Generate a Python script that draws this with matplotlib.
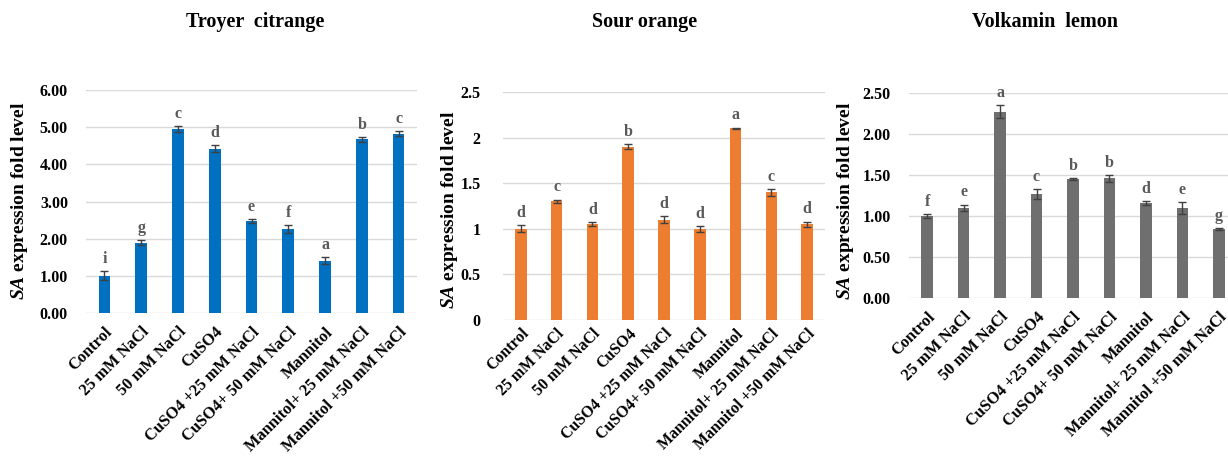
import numpy as np
import matplotlib
matplotlib.use("Agg")
import matplotlib.pyplot as plt

plt.rcParams['font.family'] = ['Liberation Serif', 'DejaVu Serif']
plt.rcParams['font.weight'] = 'bold'
plt.rcParams['mathtext.fontset'] = 'custom'
plt.rcParams['mathtext.bfit'] = 'Liberation Serif:bold:italic'
plt.rcParams['mathtext.it'] = 'Liberation Serif:italic'
plt.rcParams['mathtext.rm'] = 'Liberation Serif'

# treatments on the x axis
treatments = ['Control', '25 mM NaCl', '50 mM NaCl', 'CuSO4', 'CuSO4 +25 mM NaCl',
              'CuSO4+ 50 mM NaCl', 'Mannitol', 'Mannitol+ 25 mM NaCl', 'Mannitol +50 mM NaCl']

# Troyer citrange
troyer_vals = [1.00, 1.89, 4.95, 4.42, 2.47, 2.26, 1.41, 4.67, 4.82]
troyer_err = [0.12, 0.07, 0.07, 0.10, 0.06, 0.10, 0.10, 0.07, 0.07]
troyer_letters = ['i', 'g', 'c', 'd', 'e', 'f', 'a', 'b', 'c']

# Sour orange
sour_vals = [1.00, 1.30, 1.05, 1.90, 1.10, 1.00, 2.10, 1.40, 1.05]
sour_err = [0.04, 0.02, 0.02, 0.03, 0.04, 0.03, 0.01, 0.04, 0.03]
sour_letters = ['d', 'c', 'd', 'b', 'd', 'd', 'a', 'c', 'd']

# Volkamin lemon
volk_vals = [1.00, 1.10, 2.27, 1.27, 1.455, 1.46, 1.16, 1.10, 0.845]
volk_err = [0.02, 0.04, 0.08, 0.06, 0.01, 0.04, 0.02, 0.07, 0.01]
volk_letters = ['f', 'e', 'a', 'c', 'b', 'b', 'd', 'e', 'g']

W, H = 1228, 458
fig = plt.figure(figsize=(W / 100, H / 100), dpi=100)


def px_axes(x0, x1, y_top, y_zero):
    """axes rectangle from pixel coords of the reference"""
    return fig.add_axes([x0 / W, (H - y_zero) / H, (x1 - x0) / W, (y_zero - y_top) / H])


panels = [
    dict(title='Troyer  citrange', vals=troyer_vals, err=troyer_err, letters=troyer_letters,
         color='#0070C0', ymax=6, step=1, fmt='{:.2f}', box=(86, 417, 90, 313),
         title_x=255, ylab=(20, 201), pad=13, xpad=8, xfs=11.8),
    dict(title='Sour orange', vals=sour_vals, err=sour_err, letters=sour_letters,
         color='#ED7D31', ymax=2.5, step=0.5, fmt='{:g}', box=(503, 825, 92, 320),
         title_x=645, ylab=(449, 210), pad=16, xpad=4, xfs=11.4),
    dict(title='Volkamin  lemon', vals=volk_vals, err=volk_err, letters=volk_letters,
         color='#6F6F6F', ymax=2.5, step=0.5, fmt='{:.2f}', box=(909, 1237, 93, 298),
         title_x=1045, ylab=(846, 201), pad=13, xpad=8, xfs=11.8),
]

x = np.arange(len(treatments))
for p in panels:
    ax = px_axes(*p['box'])
    ax.set_axisbelow(True)
    ax.bar(x, p['vals'], width=0.32, color=p['color'], zorder=2)
    ax.errorbar(x, p['vals'], yerr=p['err'], fmt='none', ecolor='#404040',
                elinewidth=1, capsize=3, capthick=1, zorder=3)
    for xi, v, e, lab in zip(x, p['vals'], p['err'], p['letters']):
        ax.annotate(lab, (xi, v + e), xytext=(0, 3), textcoords='offset points',
                    ha='center', va='bottom', fontsize=11.5, fontweight='bold',
                    color='#595959')
    ax.set_xlim(-0.5, len(treatments) - 0.5)
    ax.set_ylim(0, p['ymax'])
    yt = np.arange(0, p['ymax'] + 1e-9, p['step'])
    ax.set_yticks(yt)
    ax.set_yticklabels([p['fmt'].format(v) for v in yt], fontsize=11.5, fontweight='bold')
    ax.yaxis.grid(True, color='#D9D9D9', linewidth=1)
    ax.tick_params(axis='y', length=0, pad=p['pad'])
    ax.tick_params(axis='x', length=0, pad=p['xpad'])
    ax.set_xticks(x)
    ax.set_xticklabels(treatments, rotation=45, ha='right', rotation_mode='anchor',
                       fontsize=p['xfs'], fontweight='bold')
    for s in ax.spines.values():
        s.set_visible(False)
    fig.text(p['title_x'] / W, (H - 22) / H, p['title'], ha='center', va='center',
             fontsize=14.5, fontweight='bold')
    fig.text(p['ylab'][0] / W, (H - p['ylab'][1]) / H,
             r'$\mathbfit{SA}$ expression fold level', rotation=90,
             ha='center', va='center', fontsize=14, fontweight='bold')

fig.savefig('out.png', dpi=100)
